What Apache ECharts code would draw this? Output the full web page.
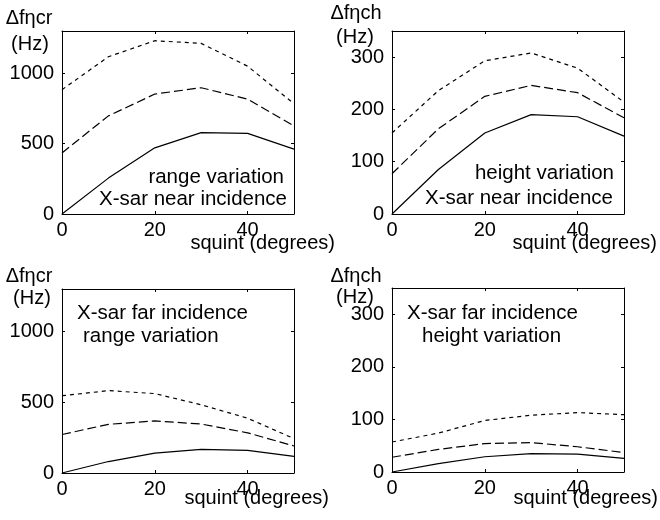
<!DOCTYPE html>
<html>
<head>
<meta charset="utf-8">
<script src="https://cdn.jsdelivr.net/npm/echarts@6/dist/echarts.min.js"></script>
<style>
html,body{margin:0;padding:0;background:#fff;}
#chart{width:660px;height:520px;}
</style>
</head>
<body>
<div id="chart"></div>
<script>
// ---- data ----
const squint = [0, 10, 20, 30, 40, 50];
const xTicks = [0, 20, 40];

// X-sar near incidence, range variation (Hz)
const nearRangeShort = [883, 1117, 1231, 1212, 1050, 783];
const nearRangeLong  = [434, 697, 852, 897, 816, 625];
const nearRangeSolid = [0, 255, 470, 578, 573, 461];

// X-sar near incidence, height variation (Hz)
const nearHeightShort = [155, 236, 293, 308, 279, 214];
const nearHeightLong  = [77, 163, 225, 246, 232, 184];
const nearHeightSolid = [0, 85, 155, 190, 186, 149];

// X-sar far incidence, range variation (Hz)
const farRangeShort = [546, 582, 561, 482, 387, 243];
const farRangeLong  = [272, 344, 368, 346, 284, 191];
const farRangeSolid = [0, 81, 141, 167, 160, 117];

// X-sar far incidence, height variation (Hz)
const farHeightShort = [57, 74, 98, 108, 113, 109];
const farHeightLong  = [28, 43, 54, 56, 48, 37];
const farHeightSolid = [0, 16, 29, 35, 34, 26];

const rangeTicks = [0, 500, 1000];
const heightTicks = [0, 100, 200, 300];

// ---- chart ----
const FONT = 'Liberation Sans, Arial, Helvetica, sans-serif';
const FS = 20;
const FA = 20.5;
const chart = echarts.init(document.getElementById('chart'), null, {renderer: 'canvas'});

const grids = [
  {left: 62, top: 31, width: 232, height: 183},
  {left: 392, top: 31, width: 232, height: 183},
  {left: 62, top: 289, width: 232, height: 184},
  {left: 392, top: 288, width: 232, height: 184}
];
const yCfg = [
  {max: 1300, interval: 500, ticks: rangeTicks},
  {max: 350, interval: 100, ticks: heightTicks},
  {max: 1300, interval: 500, ticks: rangeTicks},
  {max: 350, interval: 100, ticks: heightTicks}
];
const panels = [
  [nearRangeShort, nearRangeLong, nearRangeSolid],
  [nearHeightShort, nearHeightLong, nearHeightSolid],
  [farRangeShort, farRangeLong, farRangeSolid],
  [farHeightShort, farHeightLong, farHeightSolid]
];

const lineStyleAxis = {color: '#000', width: 1};
const xAxes = [], yAxes = [], series = [];
grids.forEach((g, i) => {
  xAxes.push({
    type: 'value', gridIndex: i, min: 0, max: 50, interval: 20, position: 'bottom',
    axisLine: {show: true, onZero: false, lineStyle: lineStyleAxis},
    axisTick: {show: true, inside: true, length: 3, lineStyle: lineStyleAxis},
    axisLabel: {show: true, color: '#000', fontFamily: FONT, fontSize: FS, margin: 6,
      showMaxLabel: false,
      formatter: v => (xTicks.indexOf(v) >= 0 ? String(v) : '')},
    splitLine: {show: false}
  });
  xAxes.push({
    type: 'value', gridIndex: i, min: 0, max: 50, interval: 20, position: 'top',
    axisLine: {show: true, onZero: false, lineStyle: lineStyleAxis},
    axisTick: {show: true, inside: true, length: 3, lineStyle: lineStyleAxis},
    axisLabel: {show: false}, splitLine: {show: false}
  });
  const yc = yCfg[i];
  yAxes.push({
    type: 'value', gridIndex: i, min: 0, max: yc.max, interval: yc.interval, position: 'left',
    axisLine: {show: true, onZero: false, lineStyle: lineStyleAxis},
    axisTick: {show: true, inside: true, length: 3, lineStyle: lineStyleAxis},
    axisLabel: {show: true, color: '#000', fontFamily: FONT, fontSize: FS, margin: 8,
      showMaxLabel: false,
      formatter: v => (yc.ticks.indexOf(v) >= 0 ? String(v) : '')},
    splitLine: {show: false}
  });
  yAxes.push({
    type: 'value', gridIndex: i, min: 0, max: yc.max, interval: yc.interval, position: 'right',
    axisLine: {show: true, onZero: false, lineStyle: lineStyleAxis},
    axisTick: {show: true, inside: true, length: 3, lineStyle: lineStyleAxis},
    axisLabel: {show: false}, splitLine: {show: false}
  });
  const styles = [
    {type: [4, 4], width: 1.2},
    {type: [9, 4], width: 1.2},
    {type: 'solid', width: 1.2}
  ];
  panels[i].forEach((vals, k) => {
    series.push({
      type: 'line', xAxisIndex: 2 * i, yAxisIndex: 2 * i,
      data: squint.map((x, j) => [x, vals[j]]),
      showSymbol: false, symbol: 'none', smooth: false, silent: true,
      lineStyle: Object.assign({color: '#000'}, styles[k]),
      animation: false
    });
  });
});

function txt(x, y, s, align, fs) {
  return {type: 'text', x: x, y: y, silent: true,
    style: {text: s, fill: '#000', font: (fs || FS) + 'px ' + FONT, align: align || 'left', verticalAlign: 'middle'}};
}

const graphics = [
  // y-axis names
  txt(29, 18, 'Δfηcr', 'center'), txt(30, 44, '(Hz)', 'center'),
  txt(356, 13, 'Δfηch', 'center'), txt(355, 37, '(Hz)', 'center'),
  txt(29, 276, 'Δfηcr', 'center'), txt(32, 298, '(Hz)', 'center'),
  txt(356, 276, 'Δfηch', 'center'), txt(355, 297, '(Hz)', 'center'),
  // x-axis names
  txt(335, 243, 'squint (degrees)', 'right'),
  txt(657, 243, 'squint (degrees)', 'right'),
  txt(329, 498, 'squint (degrees)', 'right'),
  txt(658, 498, 'squint (degrees)', 'right'),
  // panel annotations
  txt(284, 177, 'range variation', 'right', FA),
  txt(287, 199, 'X-sar near incidence', 'right', FA),
  txt(614, 173, 'height variation', 'right', FA),
  txt(613, 198, 'X-sar near incidence', 'right', FA),
  txt(77, 313, 'X-sar far incidence', 'left', FA),
  txt(83, 336, 'range variation', 'left', FA),
  txt(407, 313, 'X-sar far incidence', 'left', FA),
  txt(422, 336, 'height variation', 'left', FA)
];

chart.setOption({
  backgroundColor: '#fff',
  animation: false,
  grid: grids.map(g => Object.assign({containLabel: false, show: false}, g)),
  xAxis: xAxes,
  yAxis: yAxes,
  series: series,
  graphic: graphics
});
</script>
</body>
</html>
